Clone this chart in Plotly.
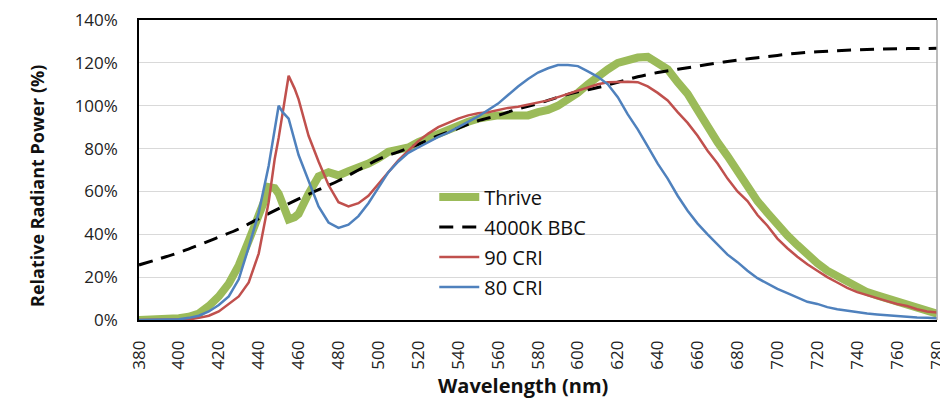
import plotly.graph_objects as go

# ---- data ----
thrive_wl = [380, 385, 390, 395, 400, 405, 410, 415, 420, 425, 430, 435, 440, 443, 445, 448, 450, 453, 455, 458, 460, 465, 470, 475, 480, 485, 490, 495, 500, 505, 510, 515, 520, 525, 530, 535, 540, 545, 550, 555, 560, 565, 570, 575, 580, 585, 590, 595, 600, 605, 610, 615, 620, 625, 630, 635, 640, 645, 650, 655, 660, 665, 670, 675, 680, 685, 690, 695, 700, 705, 710, 715, 720, 725, 730, 735, 740, 745, 750, 755, 760, 765, 770, 775, 780]
thrive_val = [0, 0, 0, 0.3, 0.8, 1.5, 3, 6.5, 11, 17, 25.5, 37, 47.5, 56, 62, 61.5, 59, 51, 47, 48, 49.5, 59, 67, 69, 67.5, 69.5, 71, 73, 75.5, 78.5, 79.5, 80.5, 83, 85, 87.5, 89.5, 91, 92.5, 94, 95, 95.5, 95.5, 95.5, 95.5, 97, 98, 100, 102.5, 106, 110, 114, 117, 120, 121.5, 122.5, 122.8, 120, 117, 111, 105.5, 98, 90, 83, 76.5, 69, 62, 55.5, 50, 44, 39.5, 35, 30.5, 26.5, 23, 20.5, 17.5, 15, 13, 11.5, 10, 8.5, 7, 5.5, 4.5, 3]

bbc_wl = [380, 390, 400, 410, 420, 430, 440, 450, 460, 470, 480, 490, 500, 510, 520, 530, 540, 550, 560, 570, 580, 590, 600, 610, 620, 630, 640, 650, 660, 670, 680, 690, 700, 710, 720, 730, 740, 750, 760, 770, 780]
bbc_val = [25.7, 28.5, 31.5, 35, 38.7, 42.5, 47.3, 52, 56.5, 60.8, 65, 70, 75, 78.5, 82, 86, 89.5, 93, 95.5, 98.5, 101, 104, 106.5, 108.5, 111, 113.5, 115.5, 117, 118.5, 120, 121.3, 122.4, 123.5, 124.5, 125.2, 125.7, 126.1, 126.4, 126.6, 126.7, 126.8]

cri90_wl = [380, 385, 390, 395, 400, 405, 410, 415, 420, 425, 430, 435, 440, 445, 448, 450, 452, 455, 458, 460, 465, 470, 475, 480, 485, 490, 495, 500, 505, 510, 515, 520, 525, 530, 535, 540, 545, 550, 555, 560, 565, 570, 575, 580, 585, 590, 595, 600, 605, 610, 615, 620, 625, 630, 635, 640, 645, 650, 655, 660, 665, 670, 675, 680, 685, 690, 695, 700, 705, 710, 715, 720, 725, 730, 735, 740, 745, 750, 755, 760, 765, 770, 775, 780]
cri90_val = [0, 0, 0, 0, 0, 0.3, 1, 2, 4, 7.5, 11, 17.5, 31, 55, 75, 85, 97, 114, 108, 103, 86, 74, 63, 55, 53, 54.5, 58, 63.5, 69.5, 74.5, 79, 83.5, 87, 90, 92, 94, 95.5, 96.5, 97, 98, 99, 99.5, 100.5, 101.5, 102.5, 104, 105.5, 107, 108.5, 110, 111, 111.2, 111.2, 111, 109, 106, 102.5, 97, 92, 86, 79, 73, 66, 60, 55.5, 49, 44, 38, 33.5, 29.5, 26, 23, 20, 17.5, 15, 13, 11.5, 10, 8.8, 7.5, 6.5, 5, 4, 3.5]

cri80_wl = [380, 385, 390, 395, 400, 405, 410, 415, 420, 425, 430, 435, 440, 445, 448, 450, 452, 455, 460, 465, 470, 475, 480, 485, 490, 495, 500, 505, 510, 515, 520, 525, 530, 535, 540, 545, 550, 555, 560, 565, 570, 575, 580, 585, 590, 595, 600, 605, 610, 615, 620, 625, 630, 635, 640, 645, 650, 655, 660, 665, 670, 675, 680, 685, 690, 695, 700, 705, 710, 715, 720, 725, 730, 735, 740, 745, 750, 755, 760, 765, 770, 775, 780]
cri80_val = [0, 0, 0, 0, 0.3, 1, 2, 4, 7, 11, 19, 34, 50, 72, 90, 100, 97, 94, 77, 65, 53, 45.5, 43, 44.5, 48.5, 54.5, 62, 69, 74, 78, 80.5, 83, 85.5, 87.5, 90, 92.5, 95, 98, 101, 105, 109, 112.5, 115.5, 117.5, 119, 119, 118.5, 116, 113.5, 110, 104, 96, 89, 81, 73, 66, 58, 51, 45, 40, 35, 30.5, 27, 23, 19.5, 17, 14.5, 12.5, 10.5, 8.5, 7.5, 6, 5, 4.3, 3.8, 3, 2.6, 2.2, 1.8, 1.5, 1.2, 1, 0.8]

x_ticks = list(range(380, 781, 20))
y_ticks = list(range(0, 141, 20))

FONT = "Open Sans"

fig = go.Figure()
fig.add_trace(go.Scatter(x=thrive_wl, y=thrive_val, name="Thrive", mode="lines",
                         line=dict(color="#9bbb59", width=8), legendgroup="a"))
fig.add_trace(go.Scatter(x=bbc_wl, y=bbc_val, name="4000K BBC", mode="lines", line_shape="spline",
                         line=dict(color="#000000", width=3, dash="14px,9px"), legendgroup="b"))
fig.add_trace(go.Scatter(x=cri90_wl, y=cri90_val, name="90 CRI", mode="lines",
                         line=dict(color="#c0504d", width=2.5), legendgroup="c"))
fig.add_trace(go.Scatter(x=cri80_wl, y=cri80_val, name="80 CRI", mode="lines",
                         line=dict(color="#4f81bd", width=2.5), legendgroup="d"))

fig.update_layout(
    width=948, height=400,
    margin=dict(l=131, r=19, t=12, b=88),
    paper_bgcolor="white", plot_bgcolor="white",
    font=dict(family=FONT, size=17, color="#222222"),
    legend=dict(x=0.37, y=0.475, xanchor="left", yanchor="top",
                bgcolor="rgba(0,0,0,0)", font=dict(size=20, family=FONT, color="#111111"),
                tracegroupgap=1, itemwidth=40),
    xaxis=dict(range=[380, 780], tickvals=x_ticks, ticktext=[str(v) for v in x_ticks],
               tickangle=-90, showgrid=False, showline=True, linecolor="black", linewidth=1.5,
               mirror=True, ticks="", zeroline=False, automargin=False, ticklabelstandoff=12,
               ticklabeloverflow="allow",
               tickfont=dict(size=17, family=FONT, color="#222222")),
    yaxis=dict(range=[0, 140.02], tickvals=y_ticks, ticktext=[f"{v}%" for v in y_ticks],
               showgrid=True, gridcolor="#d9d9d9", gridwidth=1, showline=True, linecolor="black",
               linewidth=1.5, ticks="", zeroline=False, automargin=False, ticklabelstandoff=16,
               ticklabeloverflow="allow",
               tickfont=dict(size=17, family=FONT, color="#222222")),
    annotations=[
        dict(text="<b>Wavelength (nm)</b>", xref="paper", yref="paper", x=0.481, y=-0.2167,
             xanchor="center", yanchor="middle", showarrow=False,
             font=dict(size=20, family=FONT, color="#111111")),
        dict(text="<b>Relative Radiant Power (%)</b>", xref="paper", yref="paper", x=-0.1278, y=0.4467,
             xanchor="center", yanchor="middle", textangle=-90, showarrow=False,
             font=dict(size=18, family=FONT, color="#111111")),
    ],
)
fig.add_shape(type="line", xref="paper", yref="paper", x0=1, x1=1, y0=0, y1=1,
              line=dict(color="#a6a6a6", width=1.5))

fig.write_html("out.html")
